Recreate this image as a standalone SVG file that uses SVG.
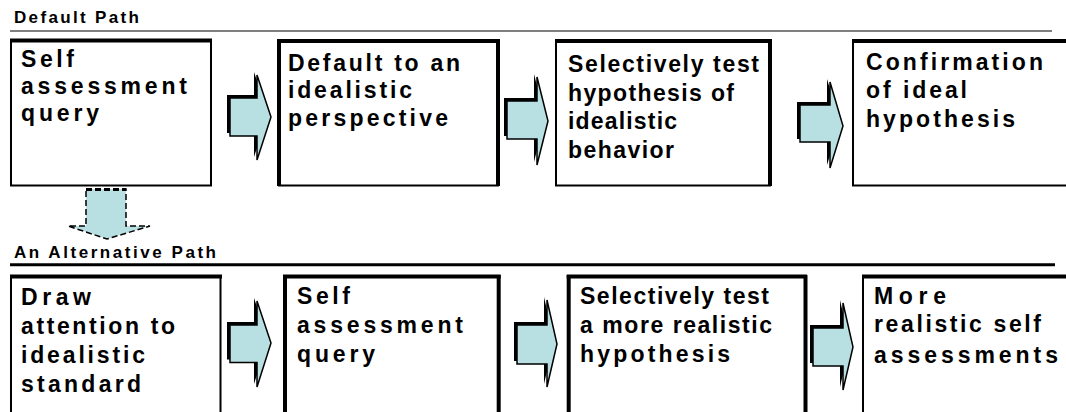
<svg xmlns="http://www.w3.org/2000/svg" width="1066" height="412" viewBox="0 0 1066 412">
  <defs>
    <style>
      .t { font-family: "Liberation Sans", Arial, sans-serif; font-weight: bold; font-size: 23px; fill: #000; }
      .h { font-family: "Liberation Sans", Arial, sans-serif; font-weight: bold; font-size: 17px; fill: #000; }
      .box { fill: #fff; stroke: #000; stroke-width: 2; }
      .edge { stroke: #000; stroke-width: 4; fill: none; }
      .arrow { fill: #b8dfe1; stroke: #000; stroke-width: 1.5; stroke-linejoin: miter; }
      .shadow { fill: #000; }
      .dash { fill: #b8dfe1; stroke: #000; stroke-width: 1.5; stroke-dasharray: 6 3; }
    </style>
  </defs>

  <rect width="1066" height="412" fill="#fff"/>

  <!-- section headings and rules -->
  <g id="heading-default">
    <text class="h" x="14" y="23" textLength="125" lengthAdjust="spacing">Default Path</text>
    <line x1="10" y1="31" x2="1052" y2="31" stroke="#000" stroke-width="1.2"/>
  </g>
  <g id="heading-alternative">
    <text class="h" x="14" y="257.5" textLength="202" lengthAdjust="spacing">An Alternative Path</text>
    <line x1="10" y1="264.7" x2="1055" y2="264.7" stroke="#000" stroke-width="3"/>
  </g>

  <!-- connectors: block arrows -->
  <g id="connectors">
    <g id="a1">
      <polygon class="shadow" points="227,95 254,95 254,72 268,114 254,157 254,133 227,133"/>
      <polygon class="arrow" points="230,98 257,98 257,75 271,117 257,160 257,136 230,136"/>
    </g>
    <g id="a2">
      <polygon class="shadow" points="504,98 534,98 534,74 545,118 534,162 534,136 504,136"/>
      <polygon class="arrow" points="507,101 537,101 537,77 548,121 537,165 537,139 507,139"/>
    </g>
    <g id="a3">
      <polygon class="shadow" points="797,102 827,102 827,79 840,123 827,165 827,139 797,139"/>
      <polygon class="arrow" points="800,105 830,105 830,82 843,126 830,168 830,142 800,142"/>
    </g>
    <g id="a4">
      <polygon class="shadow" points="227,322 254,322 254,298 268,340 254,384 254,359.5 227,359.5"/>
      <polygon class="arrow" points="230,325 257,325 257,301 271,343 257,387 257,362.5 230,362.5"/>
    </g>
    <g id="a5">
      <polygon class="shadow" points="514,322 544,322 544,297 554,341 544,384 544,361 514,361"/>
      <polygon class="arrow" points="517,325 547,325 547,300 557,344 547,387 547,364 517,364"/>
    </g>
    <g id="a6">
      <polygon class="shadow" points="810,325 840,325 840,300 850,344 840,387 840,363 810,363"/>
      <polygon class="arrow" points="813,328 843,328 843,303 853,347 843,390 843,366 813,366"/>
    </g>
    <g id="a-down">
      <polygon class="dash" points="86,189 126,189 126,226 150,226 107,239 68,226 86,226"/>
      <line x1="86" y1="189.5" x2="126" y2="189.5" stroke="#000" stroke-width="3" stroke-dasharray="6 3"/>
    </g>
  </g>

  <!-- default path nodes -->
  <g id="n1">
    <rect class="box" x="11" y="40.5" width="200" height="145"/>
    <line class="edge" x1="10" y1="40.5" x2="212" y2="40.5" stroke-width="3"/>
    <text class="t" x="21" y="67" textLength="53" lengthAdjust="spacing">Self</text>
    <text class="t" x="21" y="94" textLength="166" lengthAdjust="spacing">assessment</text>
    <text class="t" x="21" y="121" textLength="78" lengthAdjust="spacing">query</text>
  </g>
  <g id="n2">
    <rect class="box" x="279" y="41" width="219" height="144.5"/>
    <line class="edge" x1="277" y1="41" x2="500" y2="41" stroke-width="3"/>
    <line class="edge" x1="279" y1="40" x2="279" y2="186"/>
    <line class="edge" x1="498" y1="40" x2="498" y2="186"/>
    <text class="t" x="288" y="70.5" textLength="172" lengthAdjust="spacing">Default to an</text>
    <text class="t" x="288" y="98" textLength="124" lengthAdjust="spacing">idealistic</text>
    <text class="t" x="288" y="125.5" textLength="160" lengthAdjust="spacing">perspective</text>
  </g>
  <g id="n3">
    <rect class="box" x="556" y="41" width="214" height="144.5"/>
    <line class="edge" x1="555" y1="41" x2="772" y2="41" stroke-width="3"/>
    <line class="edge" x1="770" y1="40" x2="770" y2="186"/>
    <text class="t" x="568" y="72" textLength="191" lengthAdjust="spacing">Selectively test</text>
    <text class="t" x="568" y="100.5" textLength="166" lengthAdjust="spacing">hypothesis of</text>
    <text class="t" x="568" y="129" textLength="109" lengthAdjust="spacing">idealistic</text>
    <text class="t" x="568" y="157.5" textLength="106" lengthAdjust="spacing">behavior</text>
  </g>
  <g id="n4">
    <rect class="box" x="853" y="41" width="230" height="144.5"/>
    <line class="edge" x1="852" y1="41" x2="1066" y2="41" stroke-width="3"/>
    <text class="t" x="866" y="70" textLength="177" lengthAdjust="spacing">Confirmation</text>
    <text class="t" x="866" y="98.3" textLength="101" lengthAdjust="spacing">of ideal</text>
    <text class="t" x="866" y="126.7" textLength="149" lengthAdjust="spacing">hypothesis</text>
  </g>

  <!-- alternative path nodes -->
  <g id="n5">
    <rect class="box" x="11" y="276.5" width="209.5" height="150"/>
    <line class="edge" x1="10" y1="276.5" x2="222" y2="276.5" stroke-width="3"/>
    <text class="t" x="21" y="305" textLength="70" lengthAdjust="spacing">Draw</text>
    <text class="t" x="21" y="333.5" textLength="154" lengthAdjust="spacing">attention to</text>
    <text class="t" x="21" y="362.5" textLength="124" lengthAdjust="spacing">idealistic</text>
    <text class="t" x="21" y="391.5" textLength="120" lengthAdjust="spacing">standard</text>
  </g>
  <g id="n6">
    <rect class="box" x="285" y="276.5" width="213.7" height="150"/>
    <line class="edge" x1="283" y1="276.5" x2="500.7" y2="276.5" stroke-width="3"/>
    <line class="edge" x1="285" y1="275" x2="285" y2="412"/>
    <line class="edge" x1="498.7" y1="275" x2="498.7" y2="412"/>
    <text class="t" x="297" y="304" textLength="53" lengthAdjust="spacing">Self</text>
    <text class="t" x="297" y="333.3" textLength="166" lengthAdjust="spacing">assessment</text>
    <text class="t" x="297" y="361.7" textLength="78" lengthAdjust="spacing">query</text>
  </g>
  <g id="n7">
    <rect class="box" x="568.7" y="276.5" width="236.8" height="150"/>
    <line class="edge" x1="566.7" y1="276.5" x2="807" y2="276.5" stroke-width="3"/>
    <line class="edge" x1="568.7" y1="275" x2="568.7" y2="412"/>
    <line class="edge" x1="805.5" y1="275" x2="805.5" y2="412" stroke-width="3"/>
    <text class="t" x="580" y="304" textLength="189" lengthAdjust="spacing">Selectively test</text>
    <text class="t" x="580" y="333" textLength="192" lengthAdjust="spacing">a more realistic</text>
    <text class="t" x="580" y="362" textLength="150" lengthAdjust="spacing">hypothesis</text>
  </g>
  <g id="n8">
    <rect class="box" x="863" y="276.5" width="220" height="150"/>
    <line class="edge" x1="862" y1="276.5" x2="1066" y2="276.5" stroke-width="3"/>
    <text class="t" x="874" y="303.5" textLength="72" lengthAdjust="spacing">More</text>
    <text class="t" x="874" y="332" textLength="167" lengthAdjust="spacing">realistic self</text>
    <text class="t" x="874" y="362.5" textLength="184" lengthAdjust="spacing">assessments</text>
  </g>
</svg>
